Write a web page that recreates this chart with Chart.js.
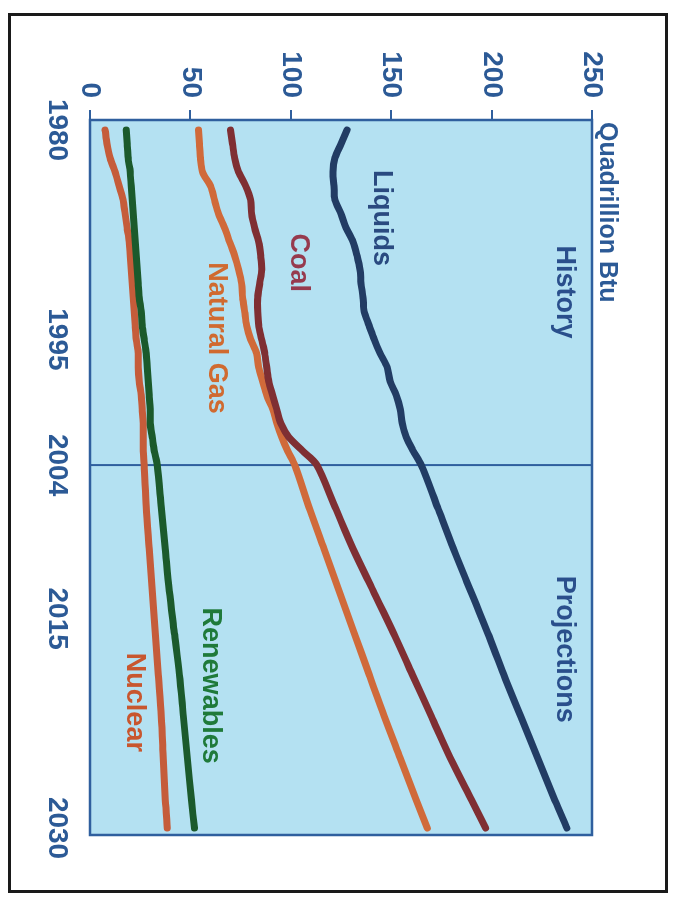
<!DOCTYPE html>
<html><head><meta charset="utf-8">
<script src="https://cdn.jsdelivr.net/npm/chart.js@4"></script>
<style>
html,body{margin:0;padding:0;background:#fff;width:676px;height:900px;overflow:hidden}
#rot{position:absolute;left:0;top:0;width:900px;height:676px;transform-origin:0 0;transform:translate(676px,0) rotate(90deg);background:#fff}
#frame{position:absolute;left:13px;top:8px;width:880px;height:660px;border:3px solid #1a1a1a;box-sizing:border-box}
#c{position:absolute;left:0;top:0}
</style></head><body>
<div id="rot"><div id="frame"></div><canvas id="c" width="900" height="676"></canvas></div>
<script>
const years = [1980,1981,1982,1983,1984,1985,1986,1987,1988,1989,1990,1991,1992,1993,1994,1995,1996,1997,1998,1999,2000,2001,2002,2003,2004,2007,2010,2013,2016,2019,2022,2025,2028,2030];
const liquids = [128,125,122,121,121.5,122,125,127.5,131,133,134.5,135,136,136.5,139,141.5,144.5,148,149.5,152.5,154.5,155.5,157.5,161,165,173,181,189.5,198,206,214.5,223,231.5,237.5];
const coal = [70,71,72,74,77.5,80,80.5,82,84,85,85.5,84.5,83.5,83.5,84,85.5,87,88,89,91,93,95,99,106,113,122,131,141,151,160.5,170,179.5,190,197];
const naturalGas = [54,54.5,55,56,60,62,64,67,69.5,72,74,75.5,76,77,78,80,83,84,86,88,91,93,95.5,98.5,102,109,116.5,124,131.5,139,146.5,154.5,162.5,168];
const renewables = [18,18.5,19,20,20.5,21,21.5,22,22.5,23,23.5,24,24.5,25.5,26,27,28,28.5,29,29.5,30,30,31,32,33.5,35.5,37.5,39.5,42,44.5,46.5,48.5,50.5,52];
const nuclear = [7.5,8.5,10,12.5,14.5,16.5,17.5,18.5,19.5,20,20.5,21,21.5,22,22.5,23,24,24,24.5,25.5,26,26.5,26.5,26.5,27,28,29.5,31,32.5,34,35.5,36.5,37.5,38.5];
const yearTicks = [1980,1995,2004,2015,2030];
const valueTicks = [0,50,100,150,200,250];
const dividerYear = 2004;
const annotations = [
  {text:'History', x:1991.6, y:236.5, color:'#2a4f8c'},
  {text:'Projections', x:2017.2, y:236.5, color:'#2a4f8c'},
  {text:'Liquids', x:1986.3, y:145, color:'#2a4a80'},
  {text:'Coal', x:1989.5, y:104, color:'#963a4e'},
  {text:'Natural Gas', x:1994.9, y:63, color:'#d06a30'},
  {text:'Renewables', x:2019.8, y:60, color:'#1f7a3a'},
  {text:'Nuclear', x:2021, y:22, color:'#c8562e'}
];
const unitTitle = 'Quadrillion Btu';

const FONT = "'Liberation Sans', Arial, sans-serif";
const axisColor = '#2f5f9e';
const tickColor = '#2c5a96';
const plotBg = '#b4e1f2';

function ds(label, arr, color){
  return {label, data: years.map((y,i)=>({x:y,y:arr[i]})), borderColor: color, borderWidth: 7,
    pointRadius:0, tension:0.3, fill:false, borderCapStyle:'round', borderJoinStyle:'round'};
}

const deco = {
  id:'deco',
  beforeDatasetsDraw(chart){
    const {ctx, chartArea:a, scales:{x}} = chart;
    ctx.save();
    ctx.fillStyle = plotBg;
    ctx.fillRect(a.left, a.top, a.right-a.left, a.bottom-a.top);
    const xp = x.getPixelForValue(dividerYear);
    ctx.strokeStyle = axisColor; ctx.lineWidth = 2;
    ctx.beginPath(); ctx.moveTo(xp, a.top); ctx.lineTo(xp, a.bottom); ctx.stroke();
    ctx.restore();
  },
  afterDatasetsDraw(chart){
    const {ctx, chartArea:a, scales:{x,y}} = chart;
    ctx.save();
    ctx.strokeStyle = axisColor; ctx.lineWidth = 2.5;
    ctx.strokeRect(a.left, a.top, a.right-a.left, a.bottom-a.top);
    ctx.font = 'bold 27px ' + FONT;
    ctx.textAlign = 'center'; ctx.textBaseline = 'middle';
    annotations.forEach(t=>{
      ctx.fillStyle = t.color;
      ctx.fillText(t.text, x.getPixelForValue(t.x), y.getPixelForValue(t.y));
    });
    ctx.fillStyle = tickColor;
    ctx.textAlign = 'left';
    ctx.font = 'bold 25px ' + FONT;
    ctx.fillText(unitTitle, a.left + 2, a.top - 15);
    ctx.restore();
  }
};

new Chart(document.getElementById('c'), {
  type:'line',
  data:{datasets:[
    ds('Liquids', liquids, '#223c64'),
    ds('Coal', coal, '#7f2f33'),
    ds('Natural Gas', naturalGas, '#d06a3a'),
    ds('Renewables', renewables, '#1b5a2c'),
    ds('Nuclear', nuclear, '#c55c3a')
  ]},
  options:{
    responsive:false, animation:false, devicePixelRatio:1,
    layout:{padding:{left:0, right:65, top:84, bottom:0}},
    plugins:{legend:{display:false}, tooltip:{enabled:false}},
    scales:{
      x:{type:'linear', min:1979.28, max:2030.5,
        afterBuildTicks:s=>{ s.ticks = yearTicks.map(v=>({value:v})); },
        afterFit:s=>{ s.height = 90; },
        grid:{display:false, drawTicks:false}, border:{display:false},
        ticks:{autoSkip:false, maxRotation:0, color:tickColor, padding:16,
          font:{family:FONT, size:28, weight:'bold'}, callback:v=>String(v)}},
      y:{min:0, max:250,
        afterBuildTicks:s=>{ s.ticks = valueTicks.map(v=>({value:v})); },
        afterFit:s=>{ s.width = 120; },
        grid:{drawOnChartArea:false, drawTicks:true, tickLength:10, color:axisColor, lineWidth:2},
        border:{display:false},
        ticks:{color:tickColor, padding:12, font:{family:FONT, size:28, weight:'bold'}, callback:v=>String(v)}}
    }
  },
  plugins:[deco]
});
</script>
</body></html>
